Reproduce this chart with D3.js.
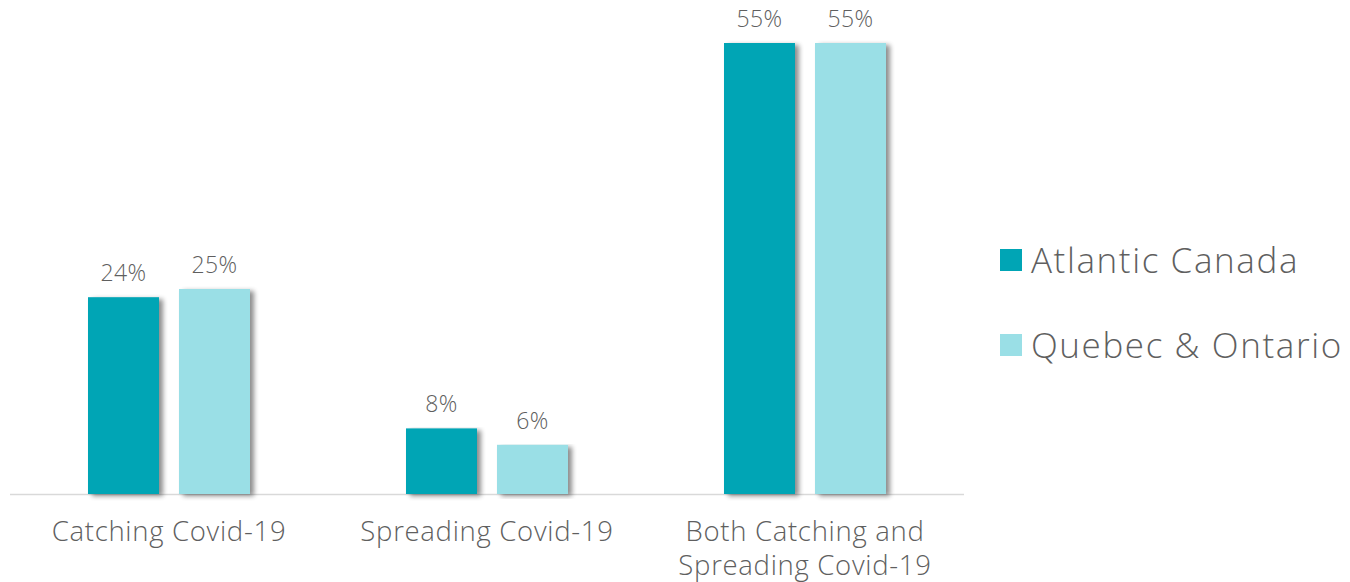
<!DOCTYPE html>
<html><head><meta charset="utf-8">
<script src="https://cdn.jsdelivr.net/npm/d3@7/dist/d3.min.js"></script>
<style>body{margin:0;background:#fff}svg{display:block}</style>
</head><body>
<script>
const categories = [["Catching Covid-19"], ["Spreading Covid-19"], ["Both Catching and", "Spreading Covid-19"]];
const seriesNames = ["Atlantic Canada", "Quebec & Ontario"];
const atlantic = [24, 8, 55];
const quebecOntario = [25, 6, 55];
const seriesValues = [atlantic, quebecOntario];
const colors = ["#00A5B5", "#9ADFE6"];

const W = 1350, H = 582;
const svg = d3.select("body").append("svg").attr("width", W).attr("height", H);
const defs = svg.append("defs");
const f = defs.append("filter").attr("id", "sh").attr("x", "-20%").attr("y", "-5%").attr("width", "150%").attr("height", "115%");
f.append("feGaussianBlur").attr("in", "SourceAlpha").attr("stdDeviation", 2.5).attr("result", "b");
f.append("feOffset").attr("in", "b").attr("dx", 4).attr("dy", 2).attr("result", "o");
f.append("feComponentTransfer").attr("in", "o").attr("result", "o2").append("feFuncA").attr("type", "linear").attr("slope", 0.45);
const m = f.append("feMerge"); m.append("feMergeNode").attr("in", "o2"); m.append("feMergeNode").attr("in", "SourceGraphic");

const font = "'Open Sans', Lato, sans-serif";
const textColor = "#5f5f5f";
const x0 = d3.scaleBand().domain(d3.range(categories.length)).range([10, 964]).paddingInner(0).paddingOuter(0);
const x1 = d3.scaleBand().domain(d3.range(seriesNames.length)).range([78, 240]).paddingInner(0.22).paddingOuter(0);
const y = d3.scaleLinear().domain([0, 55]).range([494, 43]);

svg.append("line").attr("x1", 10).attr("x2", 964).attr("y1", 494.5).attr("y2", 494.5).attr("stroke", "#d9d9d9").attr("stroke-width", 1.5);

const g = svg.append("g");
seriesValues.forEach((vals, s) => {
  vals.forEach((v, i) => {
    g.append("rect").attr("x", x0(i) + x1(s)).attr("y", y(v)).attr("width", x1.bandwidth()).attr("height", y(0) - y(v))
      .attr("fill", colors[s]).attr("filter", "url(#sh)");
    g.append("text").attr("x", x0(i) + x1(s) + x1.bandwidth() / 2).attr("y", y(v) - 16).attr("text-anchor", "middle")
      .attr("font-family", font).attr("font-weight", 300).attr("font-size", 23).attr("letter-spacing", 0.4).attr("fill", textColor).text(v + "%");
  });
});

categories.forEach((lines, i) => {
  const t = svg.append("text").attr("x", x0(i) + x0.bandwidth() / 2).attr("y", 541).attr("text-anchor", "middle")
    .attr("font-family", font).attr("font-weight", 300).attr("font-size", 27.5).attr("letter-spacing", 0.7).attr("fill", textColor);
  lines.forEach((l, k) => t.append("tspan").attr("x", x0(i) + x0.bandwidth() / 2).attr("dy", k ? 34 : 0).text(l));
});

const leg = svg.append("g");
seriesNames.forEach((n, s) => {
  const ly = 260 + s * 85;
  leg.append("rect").attr("x", 1000).attr("y", ly - 11).attr("width", 22).attr("height", 22).attr("fill", colors[s]);
  leg.append("text").attr("x", 1031).attr("y", ly + 13).attr("font-family", font).attr("font-weight", 300).attr("font-size", 35).attr("letter-spacing", 1.6).attr("fill", textColor).text(n);
});
</script>
</body></html>
